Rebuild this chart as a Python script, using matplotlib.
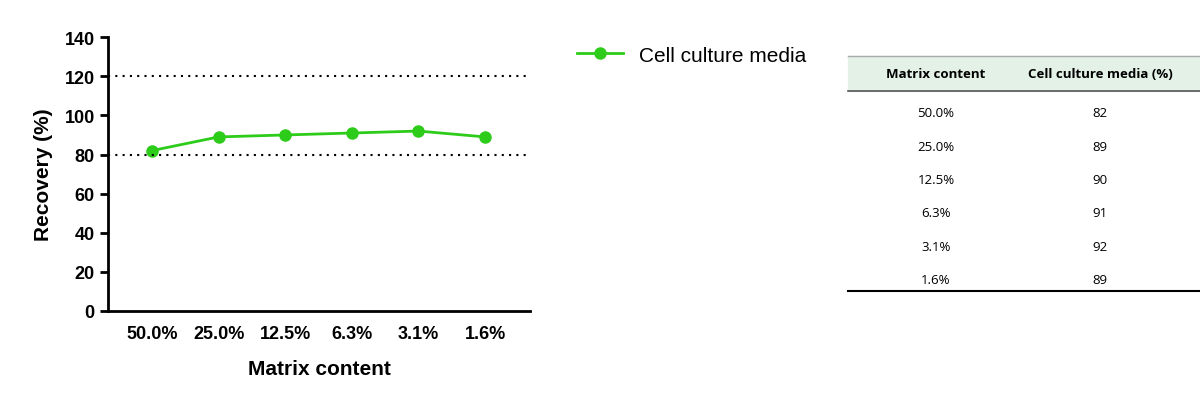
import matplotlib
matplotlib.use("Agg")
import matplotlib.pyplot as plt
from matplotlib.lines import Line2D
from matplotlib.patches import Rectangle

categories = ["50.0%", "25.0%", "12.5%", "6.3%", "3.1%", "1.6%"]
recovery = [82, 89, 90, 91, 92, 89]
series_name = "Cell culture media"
green = "#2ecc1a"

plt.rcParams["font.family"] = ["Liberation Sans", "DejaVu Sans"]
fig = plt.figure(figsize=(12, 4.02), dpi=100)
ax = fig.add_axes([0.09, 0.224, 0.352, 0.681])
x = list(range(len(categories)))
ax.plot(x, recovery, color=green, lw=2, marker="o", ms=8, label=series_name)
ax.axhline(120, color="black", ls=(0, (1, 2.5)), lw=1.5)
ax.axhline(80, color="black", ls=(0, (1, 2.5)), lw=1.5)
ax.set_xlim(-0.66, 5.68)
ax.set_ylim(0, 140)
ax.set_yticks(range(0, 141, 20))
ax.set_xticks(x)
ax.set_xticklabels(categories)
for s in ["top", "right"]:
    ax.spines[s].set_visible(False)
for s in ["left", "bottom"]:
    ax.spines[s].set_linewidth(2)
ax.tick_params(axis="x", length=0, pad=10, labelsize=13)
ax.tick_params(axis="y", width=2, length=6, labelsize=13)
for t in ax.get_xticklabels() + ax.get_yticklabels():
    t.set_fontweight("bold")
ax.set_xlabel("Matrix content", fontsize=15, fontweight="bold", labelpad=12)
ax.set_ylabel("Recovery (%)", fontsize=15, fontweight="bold", labelpad=8)

fig.legend(handles=[Line2D([], [], color=green, lw=2, marker="o", ms=8)],
           labels=[series_name], loc="center left", bbox_to_anchor=(0.465, 0.86),
           frameon=False, fontsize=15, handlelength=2.2)

# table
tf = ["Open Sans", "DejaVu Sans"]
x0, x1 = 848 / 1200, 1.0
fig.patches.append(Rectangle((x0, 1 - 92 / 402), x1 - x0, 35 / 402,
                             transform=fig.transFigure, color="#e3f1e6", zorder=0))
fig.add_artist(Line2D([x0, x1], [1 - 57 / 402] * 2, color="#aaaaaa", lw=1))
fig.add_artist(Line2D([x0, x1], [1 - 92 / 402] * 2, color="#555555", lw=1.2))
fig.add_artist(Line2D([x0, x1], [1 - 292 / 402] * 2, color="black", lw=1.5))
c1, c2 = 936 / 1200, 1100 / 1200
fig.text(c1, 1 - 75 / 402, "Matrix content", ha="center", va="center",
         fontsize=9.5, fontweight="bold", family=tf)
fig.text(c2, 1 - 75 / 402, "Cell culture media (%)", ha="center", va="center",
         fontsize=9.5, fontweight="bold", family=tf)
for i, (c, v) in enumerate(zip(categories, recovery)):
    y = 1 - (114 + i * 33.3) / 402
    fig.text(c1, y, c, ha="center", va="center", fontsize=9.5, family=tf)
    fig.text(c2, y, str(v), ha="center", va="center", fontsize=9.5, family=tf)

fig.savefig("out.png", dpi=100)
